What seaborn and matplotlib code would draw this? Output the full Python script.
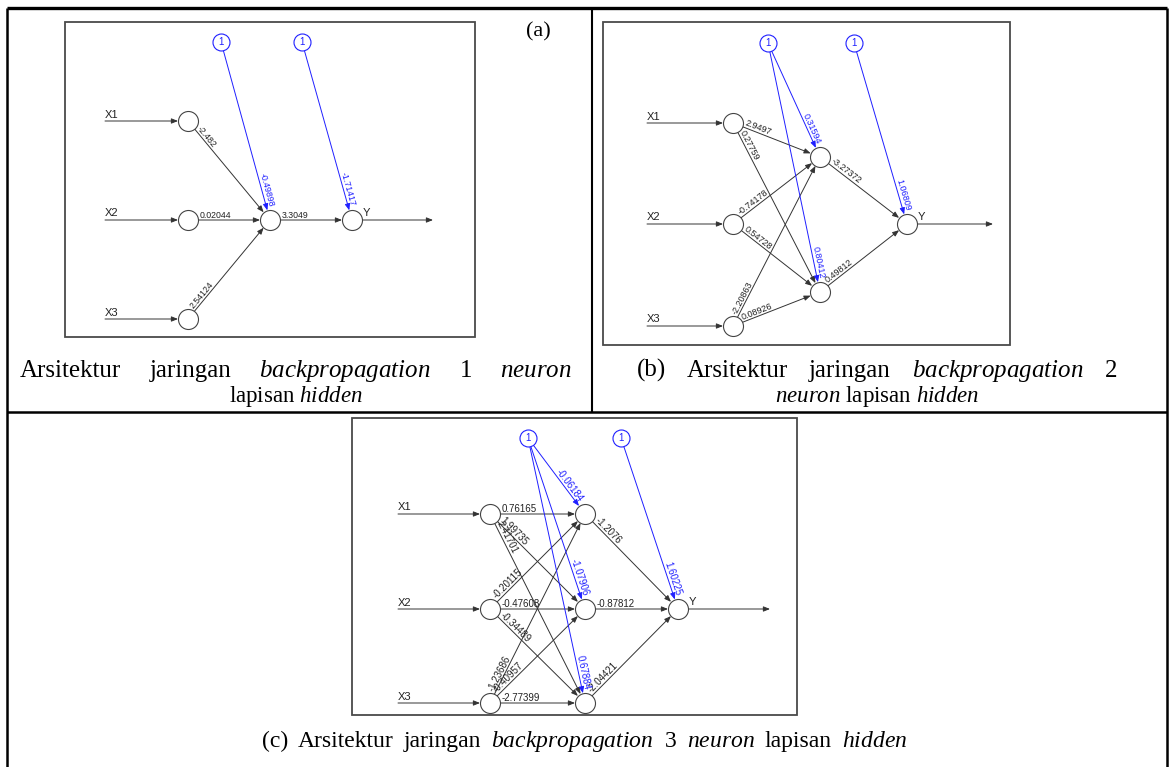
import numpy as np
import matplotlib
matplotlib.use("Agg")
import matplotlib.pyplot as plt
import seaborn as sns
import pandas as pd
from matplotlib.patches import FancyArrowPatch, Rectangle

sns.set_theme(style="white")
plt.rcParams["font.family"] = ["Liberation Sans", "DejaVu Sans"]
plt.rcParams["mathtext.fontset"] = "custom"
plt.rcParams["mathtext.rm"] = "Liberation Serif"
plt.rcParams["mathtext.it"] = "Liberation Serif:italic"

input_names = ["X1", "X2", "X3"]
output_name = "Y"
bias_label = "1"

# (a) one hidden neuron: rows = inputs, columns = hidden neurons
a_in_hidden = [[-2.482], [0.02044], [2.54124]]
a_hidden_out = [3.3049]
a_bias_hidden = [-0.49898]
a_bias_out = -1.71417

# (b) two hidden neurons
b_in_hidden = [[2.9497, 0.27759], [-0.74178, 0.54728], [-2.20863, 0.08926]]
b_hidden_out = [-3.27372, 0.49812]
b_bias_hidden = [0.31594, 0.80412]
b_bias_out = 1.06809

# (c) three hidden neurons
c_in_hidden = [[0.76165, 1.99735, 2.41701],
               [-0.20115, -0.47608, -0.34489],
               [-1.23686, -0.40957, -2.77399]]
c_hidden_out = [-1.2076, -0.87812, -2.04421]
c_bias_hidden = [-0.06184, -1.07906, 0.67884]
c_bias_out = 1.60225

# caption words (italic words in mathtext)
cap_a1 = ["Arsitektur", "jaringan", r"$\mathit{backpropagation}$", "1", r"$\mathit{neuron}$"]
cap_a2 = r"lapisan $\mathit{hidden}$"
cap_b1 = ["(b)", "Arsitektur", "jaringan", r"$\mathit{backpropagation}$", "2"]
cap_b2 = r"$\mathit{neuron}$ lapisan $\mathit{hidden}$"
cap_c = ["(c)", "Arsitektur", "jaringan", r"$\mathit{backpropagation}$", r"$\mathit{3}$",
         r"$\mathit{neuron}$", "lapisan", r"$\mathit{hidden}$"]
panel_tag = "(a)"

W, H = 1169, 767
fig = plt.figure(figsize=(W / 100, H / 100), dpi=100)
ax = fig.add_axes([0, 0, 1, 1])
ax.set_xlim(0, W)
ax.set_ylim(H, 0)
ax.axis("off")

EDGE = "#333333"
BLUE = "#1f1fff"
TXT = "#222222"


def arrow(p, q, color, lw=0.7):
    ax.add_patch(FancyArrowPatch(p, q, arrowstyle="-|>,head_length=0.55,head_width=0.22",
                                 mutation_scale=7, lw=lw, color=color,
                                 shrinkA=0, shrinkB=0, zorder=2))


def edge(pa, ra, pb, rb, value, color, fs, at_start=True):
    pa, pb = np.array(pa, float), np.array(pb, float)
    d = (pb - pa) / np.linalg.norm(pb - pa)
    s, e = pa + d * ra, pb - d * rb
    arrow(s, e, color)
    ang = np.degrees(np.arctan2(-(e[1] - s[1]), e[0] - s[0]))
    if at_start:
        anchor, ha = s + d * 1.5, "left"
    else:
        anchor, ha = e - d * 3, "right"
    ax.text(anchor[0], anchor[1], f"{value:g}", rotation=ang, rotation_mode="anchor",
            ha=ha, va="bottom", fontsize=fs, color=color if color == BLUE else TXT, zorder=4)


def nodes(xs, ys, r, color):
    df = pd.DataFrame({"x": xs, "y": ys})
    size = (2 * r * 0.72) ** 2
    sns.scatterplot(data=df, x="x", y="y", ax=ax, s=size, marker="o",
                    facecolor="white", edgecolor=color, linewidth=0.8, zorder=5, legend=False)


def network(frame, x_in, ys_in, x_hid, ys_hid, out_xy, bias_pos, x_start, x_end,
            w_in_hid, w_hid_out, w_bias_hid, w_bias_out, fs):
    x0, y0, x1, y1 = frame
    ax.add_patch(Rectangle((x0, y0), x1 - x0, y1 - y0, fill=False, ec="#4a4a4a", lw=1.3, zorder=1))
    r, rb = 10, 8.5
    ox, oy = out_xy
    for name, y in zip(input_names, ys_in):
        arrow((x_start, y), (x_in - r, y), EDGE)
        ax.text(x_start, y - 1.5, name, ha="left", va="bottom", fontsize=8, color=TXT)
    for i, y in enumerate(ys_in):
        for j, yh in enumerate(ys_hid):
            edge((x_in, y), r, (x_hid, yh), r, w_in_hid[i][j], EDGE, fs)
    for j, yh in enumerate(ys_hid):
        edge((x_hid, yh), r, out_xy, r, w_hid_out[j], EDGE, fs)
    for j, yh in enumerate(ys_hid):
        edge(bias_pos[0], rb, (x_hid, yh), r, w_bias_hid[j], BLUE, fs, at_start=False)
    edge(bias_pos[1], rb, out_xy, r, w_bias_out, BLUE, fs, at_start=False)
    arrow((ox + r, oy), (x_end, oy), EDGE)
    ax.text(ox + r + 1, oy - 2, output_name, ha="left", va="bottom", fontsize=8, color=TXT)
    nodes([x_in] * len(ys_in) + [x_hid] * len(ys_hid) + [ox],
          list(ys_in) + list(ys_hid) + [oy], r, "#444444")
    nodes([p[0] for p in bias_pos], [p[1] for p in bias_pos], rb, BLUE)
    for bx, by in bias_pos:
        ax.text(bx, by, bias_label, ha="center", va="center", fontsize=7, color=BLUE, zorder=6)


network((65, 22, 475, 337), 188, [121, 220, 319], 270, [220], (352, 220),
        [(221, 42), (302, 42)], 105, 433,
        a_in_hidden, a_hidden_out, a_bias_hidden, a_bias_out, 6.3)
network((603, 22, 1010, 345), 733, [123, 224, 326], 820, [157, 292], (907, 224),
        [(768, 43), (854, 43)], 647, 993,
        b_in_hidden, b_hidden_out, b_bias_hidden, b_bias_out, 6.5)
network((352, 418, 797, 715), 490, [514, 609, 703], 585, [514, 609, 703], (678, 609),
        [(528, 438), (621, 438)], 398, 770,
        c_in_hidden, c_hidden_out, c_bias_hidden, c_bias_out, 7)

# table rules
kw = dict(color="black", solid_capstyle="butt", zorder=7)
ax.plot([7, 1167], [8, 8], lw=2.4, **kw)
ax.plot([7, 7], [8, 767], lw=1.8, **kw)
ax.plot([1167, 1167], [8, 767], lw=1.8, **kw)
ax.plot([7, 1167], [412, 412], lw=1.8, **kw)
ax.plot([592, 592], [8, 412], lw=1.5, **kw)

serif = dict(color="black", va="baseline", family=["Liberation Serif", "DejaVu Serif"])
renderer = fig.canvas.get_renderer()


def justified(words, xl, xr, y, fs):
    # spread the words of a line evenly between xl and xr
    items = [ax.text(0, y, w, ha="left", fontsize=fs, **serif) for w in words]
    widths = [t.get_window_extent(renderer).width for t in items]
    gap = (xr - xl - sum(widths)) / (len(words) - 1)
    x = xl
    for t, w in zip(items, widths):
        t.set_x(x)
        x += w + gap


ax.text(538, 36, panel_tag, ha="center", fontsize=16, **serif)
justified(cap_a1, 20, 572, 377, 18)
ax.text(296, 402, cap_a2, ha="center", fontsize=16.5, **serif)
justified(cap_b1, 637, 1117, 377, 18)
ax.text(877, 402, cap_b2, ha="center", fontsize=16.5, **serif)
justified(cap_c, 262, 907, 747, 17)

fig.savefig("out.png", dpi=100)
